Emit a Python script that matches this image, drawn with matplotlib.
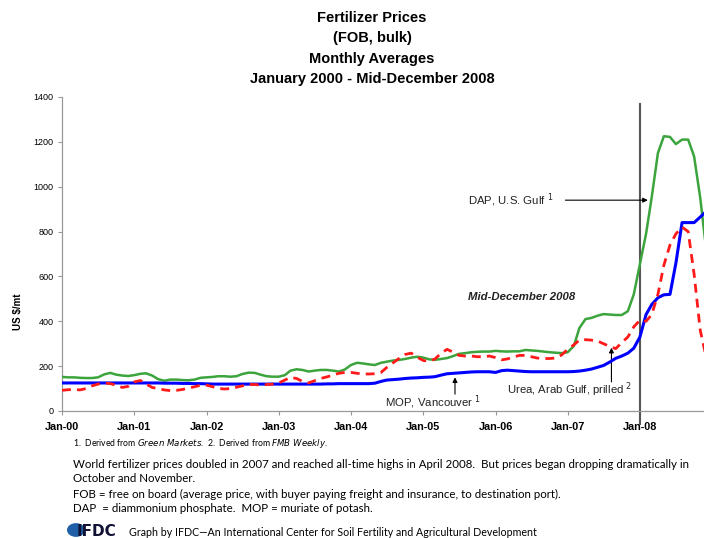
import matplotlib
matplotlib.use("Agg")
import matplotlib.pyplot as plt
import matplotlib.dates as mdates
from matplotlib.patches import Circle
import pandas as pd

plt.rcParams['font.family'] = ['Liberation Sans', 'DejaVu Sans']

months = pd.date_range('2000-01-01', '2008-12-01', freq='MS')

# DAP, U.S. Gulf (US $/mt), Jan 2000 - Dec 2008
dap = [152, 150, 150, 148, 147, 147, 150, 163, 170, 162, 158, 156,
       160, 166, 168, 158, 142, 135, 140, 140, 138, 137, 140, 148,
       150, 152, 155, 155, 153, 155, 165, 171, 170, 162, 155, 153,
       153, 160, 180, 186, 183, 176, 180, 183, 183, 180, 176, 185,
       205, 215, 212, 208, 205, 215, 220, 225, 228, 232, 238, 242,
       238, 230, 228, 232, 236, 245, 255, 258, 262, 264, 265, 265,
       268, 266, 265, 266, 266, 272, 270, 268, 265, 262, 260, 258,
       262, 290, 370, 410, 415, 425, 432, 430, 428, 428, 445, 520,
       655, 790, 955, 1150, 1225, 1222, 1190, 1210, 1210, 1135, 950, 720]

# Urea, Arab Gulf, prilled
urea = [92, 95, 96, 94, 100, 112, 120, 125, 122, 115, 105, 110,
        130, 136, 120, 105, 100, 94, 91, 92, 96, 102, 108, 115,
        115, 108, 101, 98, 100, 106, 112, 118, 118, 116, 118, 120,
        125, 138, 150, 145, 132, 125, 135, 145, 152, 160, 168, 172,
        172, 168, 165, 165, 166, 172, 195, 215, 235, 252, 258, 240,
        225, 222, 232, 258, 275, 262, 248, 245, 245, 242, 242, 245,
        238, 228, 232, 240, 248, 248, 242, 236, 234, 234, 236, 250,
        275, 295, 316, 318, 316, 312, 300, 288, 278, 305, 330, 375,
        405, 400, 430, 520, 650, 740, 790, 820, 800, 610, 360, 240]

# MOP, Vancouver
mop = [125, 125, 125, 125, 125, 125, 125, 125, 125, 125, 125, 125,
       125, 125, 125, 125, 125, 124, 124, 124, 123, 123, 122, 122,
       121, 120, 120, 120, 120, 120, 120, 120, 120, 120, 120, 120,
       120, 120, 120, 120, 120, 120, 120, 120, 121, 121, 122, 122,
       122, 122, 122, 122, 124, 132, 138, 140, 142, 145, 147, 148,
       150, 151, 153, 160, 166, 168, 170, 172, 174, 175, 175, 175,
       172, 180, 182, 180, 178, 176, 175, 175, 175, 175, 175, 175,
       175, 176, 178, 182, 187, 195, 203, 218, 235, 245, 258, 280,
       330, 430, 475, 505, 518, 520, 660, 840, 840, 840, 865, 890]

fig = plt.figure(figsize=(7.04, 5.38), dpi=100)
ax = fig.add_axes([62 / 704, 127 / 538, 642 / 704, 314 / 538])

ax.plot(months, dap, color='#3ca43c', lw=1.8, zorder=3)
ax.plot(months, mop, color='#0000ff', lw=2.2, zorder=4)
ax.plot(months, urea, color='#ff1a1a', lw=2.0, dashes=(3.2, 2.2), zorder=5)

ax.set_xlim(pd.Timestamp('2000-01-01'), pd.Timestamp('2008-11-20'))
ax.set_ylim(0, 1400)
ax.set_yticks(range(0, 1401, 200))
ax.xaxis.set_major_locator(mdates.YearLocator())
ax.xaxis.set_major_formatter(mdates.DateFormatter('%b-%y'))

for s in ['top', 'right']:
    ax.spines[s].set_visible(False)
for s in ['left', 'bottom']:
    ax.spines[s].set_color('#999999')
    ax.spines[s].set_linewidth(0.9)
ax.tick_params(axis='y', length=3, color='#999999', labelsize=6.5, pad=3)
ax.tick_params(axis='x', length=3, color='#999999', labelsize=7.8, pad=5)
for lab in ax.get_xticklabels():
    lab.set_fontweight('bold')

# reference line at Jan-08
jan08 = pd.Timestamp('2008-01-01')
ax.plot([jan08, jan08], [-60, 1370], color='#555555', lw=1.5, clip_on=False, zorder=2)

lab_kw = dict(fontsize=8.2, color='#222222', va='center')
arrow = dict(arrowstyle='-|>', color='black', lw=0.8, mutation_scale=7, shrinkA=0, shrinkB=0)
ax.annotate('', xy=(pd.Timestamp('2008-02-10'), 940), xytext=(pd.Timestamp('2006-12-20'), 940),
            arrowprops=arrow)
ax.text(pd.Timestamp('2005-08-15'), 940, 'DAP, U.S. Gulf $^1$', **lab_kw)

ax.annotate('', xy=(1.0, 508), xycoords=('axes fraction', 'data'),
            xytext=(pd.Timestamp('2007-05-20'), 508), arrowprops=arrow, annotation_clip=False)
ax.text(pd.Timestamp('2005-08-15'), 508, 'Mid-December 2008', style='italic',
        fontweight='bold', **lab_kw)

ax.annotate('', xy=(pd.Timestamp('2007-08-10'), 282), xytext=(pd.Timestamp('2007-08-10'), 130),
            arrowprops=arrow)
ax.text(pd.Timestamp('2007-01-10'), 95, 'Urea, Arab Gulf, prilled $^2$', ha='center', **lab_kw)

ax.annotate('', xy=(pd.Timestamp('2005-06-10'), 150), xytext=(pd.Timestamp('2005-06-10'), 75),
            arrowprops=arrow)
ax.text(pd.Timestamp('2005-02-20'), 38, 'MOP, Vancouver $^1$', ha='center', **lab_kw)

fig.text(18 / 704, 1 - 312 / 538, 'US $/mt', rotation=90, fontsize=7, fontweight='bold',
         ha='center', va='center')

title = 'Fertilizer Prices\n(FOB, bulk)\nMonthly Averages\nJanuary 2000 - Mid-December 2008'
fig.text(372 / 704, 1 - 11 / 538, title, ha='center', va='top', fontsize=10.5,
         fontweight='bold', linespacing=1.58)

note_font = ['Lato', 'DejaVu Sans']
fig.text(73 / 704, 1 - 444 / 538,
         r'1.  Derived from $\it{Green\ Markets}$.  2.  Derived from $\it{FMB\ Weekly}$.',
         fontsize=6.2, va='center', family=note_font)
notes = ['World fertilizer prices doubled in 2007 and reached all-time highs in April 2008.  '
         'But prices began dropping dramatically in',
         'October and November.',
         'FOB = free on board (average price, with buyer paying freight and insurance, to destination port).',
         'DAP  = diammonium phosphate.  MOP = muriate of potash.']
for i, line in enumerate(notes):
    fig.text(73 / 704, 1 - (464 + i * 15) / 538, line, fontsize=8.3, va='center', family=note_font)

fig.patches.append(Circle((76 / 704, 1 - 530 / 538), 9 / 704, transform=fig.transFigure,
                          facecolor='#1f5fa8', edgecolor='none'))
fig.text(77 / 704, 1 - 531 / 538, 'IFDC', fontsize=11, fontweight='bold', color='#111133',
         va='center', family=['DejaVu Sans'])
fig.text(129 / 704, 1 - 532 / 538,
         'Graph by IFDC\u2014An International Center for Soil Fertility and Agricultural Development',
         fontsize=7.7, va='center', family=note_font)

fig.savefig('out.png', dpi=100)
